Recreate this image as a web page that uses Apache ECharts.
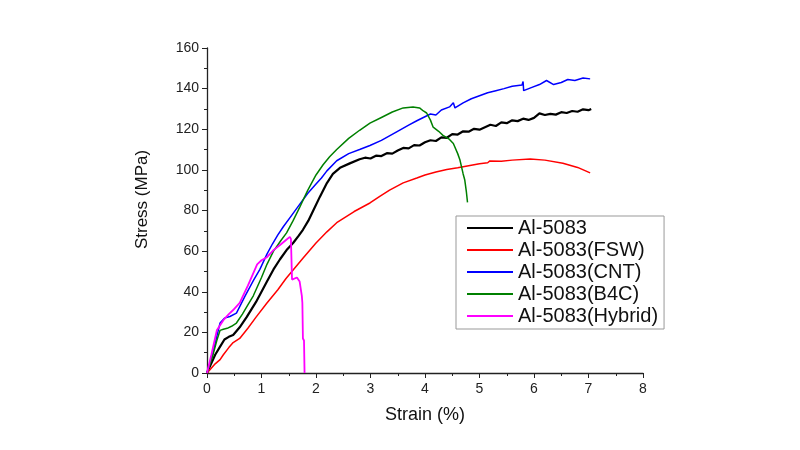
<!DOCTYPE html>
<html>
<head>
<meta charset="utf-8">
<script src="https://cdn.jsdelivr.net/npm/echarts@6/dist/echarts.min.js"></script>
<style>
  html, body { margin: 0; padding: 0; background: #fff; }
  #chart { width: 800px; height: 450px; }
</style>
</head>
<body>
<div id="chart"></div>
<script>
// [strain %, stress MPa]
const seriesNames = ['Al-5083', 'Al-5083(FSW)', 'Al-5083(CNT)', 'Al-5083(B4C)', 'Al-5083(Hybrid)']
const seriesColors = ['#000000', '#ff0000', '#0000ff', '#008000', '#ff00ff']

const base = [
  [0, 0], [0.05, 3], [0.15, 9], [0.24, 13], [0.32, 16.5], [0.4, 17.8], [0.48, 18.7], [0.6, 22.5],
  [0.73, 27.6], [0.9, 35], [1.1, 45], [1.22, 51], [1.34, 56], [1.46, 60.5], [1.58, 64],
  [1.68, 67.5], [1.76, 70.5], [1.86, 75], [1.95, 80], [2.07, 86.7], [2.2, 93.5], [2.31, 98],
  [2.44, 101], [2.62, 103.2], [2.8, 105.2], [2.9, 106.0], [3.0, 105.6], [3.1, 107.0], [3.2, 106.8],
  [3.3, 108.2], [3.4, 108.0], [3.5, 109.5], [3.6, 110.8], [3.7, 110.6], [3.8, 112.2], [3.9, 112.0],
  [4.0, 113.6], [4.1, 114.6], [4.2, 114.2], [4.3, 116.0], [4.4, 115.8], [4.5, 117.6], [4.6, 117.4],
  [4.7, 119.0], [4.8, 118.8], [4.9, 120.2], [5.0, 119.8], [5.1, 121.0], [5.2, 122.2], [5.3, 121.6],
  [5.4, 123.4], [5.5, 123.0], [5.6, 124.4], [5.7, 124.0], [5.8, 125.2], [5.9, 124.6], [6.0, 125.6],
  [6.1, 127.8], [6.2, 127.0], [6.3, 127.6], [6.4, 127.2], [6.5, 128.4], [6.6, 128.0], [6.7, 129.0],
  [6.8, 128.6], [6.9, 129.8], [7.0, 129.4], [7.05, 130.0]
]

const fsw = [
  [0, 0], [0.05, 1.5], [0.15, 4.5], [0.24, 6.6], [0.3, 9], [0.4, 12.5], [0.48, 15], [0.6, 17],
  [0.75, 22], [0.9, 27.5], [1.1, 34.5], [1.3, 41], [1.45, 46.5], [1.58, 50.7], [1.76, 56.5],
  [2.0, 64], [2.2, 69.5], [2.38, 74], [2.7, 79.5], [2.99, 83.7], [3.17, 87], [3.35, 90],
  [3.6, 93.6], [3.85, 96], [4.0, 97.5], [4.2, 99], [4.4, 100.2], [4.6, 101], [4.8, 102],
  [5.0, 103], [5.15, 103.5], [5.19, 104.4], [5.22, 103.8], [5.4, 104.2], [5.6, 104.8],
  [5.93, 105.3], [6.2, 104.8], [6.53, 103.3], [6.8, 101.2], [7.03, 98.5]
]

const cnt = [
  [0, 0], [0.1, 9], [0.18, 18], [0.24, 24.6], [0.32, 27], [0.42, 27.8], [0.54, 29.5], [0.7, 38],
  [0.85, 45.5], [0.97, 51], [1.1, 58.5], [1.2, 63.5], [1.3, 68], [1.4, 72], [1.55, 77.5],
  [1.7, 83], [1.85, 88.5], [2.0, 93], [2.1, 96], [2.2, 99.5], [2.38, 104.5], [2.6, 108], [2.8, 110],
  [2.99, 112], [3.2, 114.5], [3.48, 118.7], [3.7, 122], [3.85, 124.2], [3.97, 125.8],
  [4.1, 127.5], [4.2, 127], [4.3, 129.5], [4.45, 131], [4.52, 133], [4.55, 130.5], [4.7, 133],
  [4.85, 135], [5.0, 136.5], [5.15, 138], [5.3, 139], [5.45, 140], [5.6, 141.2], [5.78, 141.8],
  [5.8, 143.5], [5.81, 139], [5.95, 140.5], [6.1, 142], [6.23, 144], [6.36, 142], [6.5, 143],
  [6.62, 144.5], [6.75, 144], [6.9, 145.2], [7.03, 144.8]
]

const b4c = [
  [0, 0], [0.1, 8], [0.18, 16], [0.24, 21], [0.3, 21.5], [0.37, 22], [0.45, 23], [0.54, 24.6],
  [0.65, 29], [0.75, 33.5], [0.85, 38], [1.0, 47], [1.1, 53.5], [1.22, 60], [1.35, 65],
  [1.46, 69], [1.58, 75], [1.7, 81.5], [1.76, 85], [1.85, 90], [2.0, 97.5], [2.13, 102.5],
  [2.25, 106.5], [2.38, 110], [2.6, 115.5], [2.8, 119.5], [2.99, 123], [3.2, 125.8],
  [3.4, 128.5], [3.6, 130.5], [3.78, 131], [3.9, 130.5], [3.97, 129], [4.03, 128], [4.1, 124.5],
  [4.15, 121], [4.25, 119], [4.33, 117], [4.45, 115], [4.52, 113], [4.6, 108], [4.64, 105],
  [4.7, 98], [4.73, 95], [4.76, 89], [4.78, 84]
]

const hybrid = [
  [0, 0], [0.08, 9], [0.18, 21], [0.3, 26], [0.4, 29], [0.48, 31], [0.6, 34.5], [0.75, 43],
  [0.92, 53.5], [1.0, 55.5], [1.1, 57], [1.22, 60.5], [1.34, 63], [1.45, 65.5], [1.52, 67],
  [1.54, 66], [1.56, 46], [1.65, 47], [1.7, 45], [1.74, 38], [1.75, 34.5], [1.76, 17], [1.78, 16],
  [1.79, 0]
]

const curves = [base, fsw, cnt, b4c, hybrid]
const lineWidths = [2.2, 1.5, 1.5, 1.5, 1.8]

const FONT = 'Liberation Sans, Arial, sans-serif'
const chart = echarts.init(document.getElementById('chart'))

chart.setOption({
  animation: false,
  backgroundColor: '#fff',
  grid: { left: 207, right: 157, top: 48, bottom: 77 },
  legend: {
    orient: 'vertical',
    left: 456,
    top: 216,
    icon: 'rect',
    itemWidth: 46,
    itemHeight: 2,
    itemGap: 2,
    padding: [2, 6, 3, 11],
    borderColor: '#999',
    borderWidth: 1,
    textStyle: { fontFamily: FONT, fontSize: 20, color: '#111' },
    data: seriesNames
  },
  xAxis: {
    type: 'value',
    min: 0,
    max: 8,
    interval: 1,
    name: 'Strain (%)',
    nameLocation: 'middle',
    nameGap: 33,
    nameTextStyle: { fontFamily: FONT, fontSize: 18, color: '#111' },
    axisLine: { show: true, lineStyle: { color: '#222', width: 1.3 } },
    axisTick: { show: true, length: 5, lineStyle: { color: '#222' } },
    minorTick: { show: true, splitNumber: 2, length: 3, lineStyle: { color: '#222' } },
    splitLine: { show: false },
    axisLabel: { fontFamily: FONT, fontSize: 14, color: '#222', margin: 9 }
  },
  yAxis: {
    type: 'value',
    min: 0,
    max: 160,
    interval: 20,
    name: 'Stress (MPa)',
    nameLocation: 'middle',
    nameGap: 56,
    nameTextStyle: { fontFamily: FONT, fontSize: 17, color: '#111', padding: [0, 0, 0, 22] },
    axisLine: { show: true, lineStyle: { color: '#222', width: 1.3 } },
    axisTick: { show: true, length: 5, lineStyle: { color: '#222' } },
    minorTick: { show: true, splitNumber: 2, length: 3, lineStyle: { color: '#222' } },
    splitLine: { show: false },
    axisLabel: { fontFamily: FONT, fontSize: 14, color: '#222', margin: 8 }
  },
  series: curves.map((d, i) => ({
    name: seriesNames[i],
    type: 'line',
    data: d,
    symbol: 'none',
    color: seriesColors[i],
    lineStyle: { color: seriesColors[i], width: lineWidths[i] }
  }))
})
</script>
</body>
</html>
